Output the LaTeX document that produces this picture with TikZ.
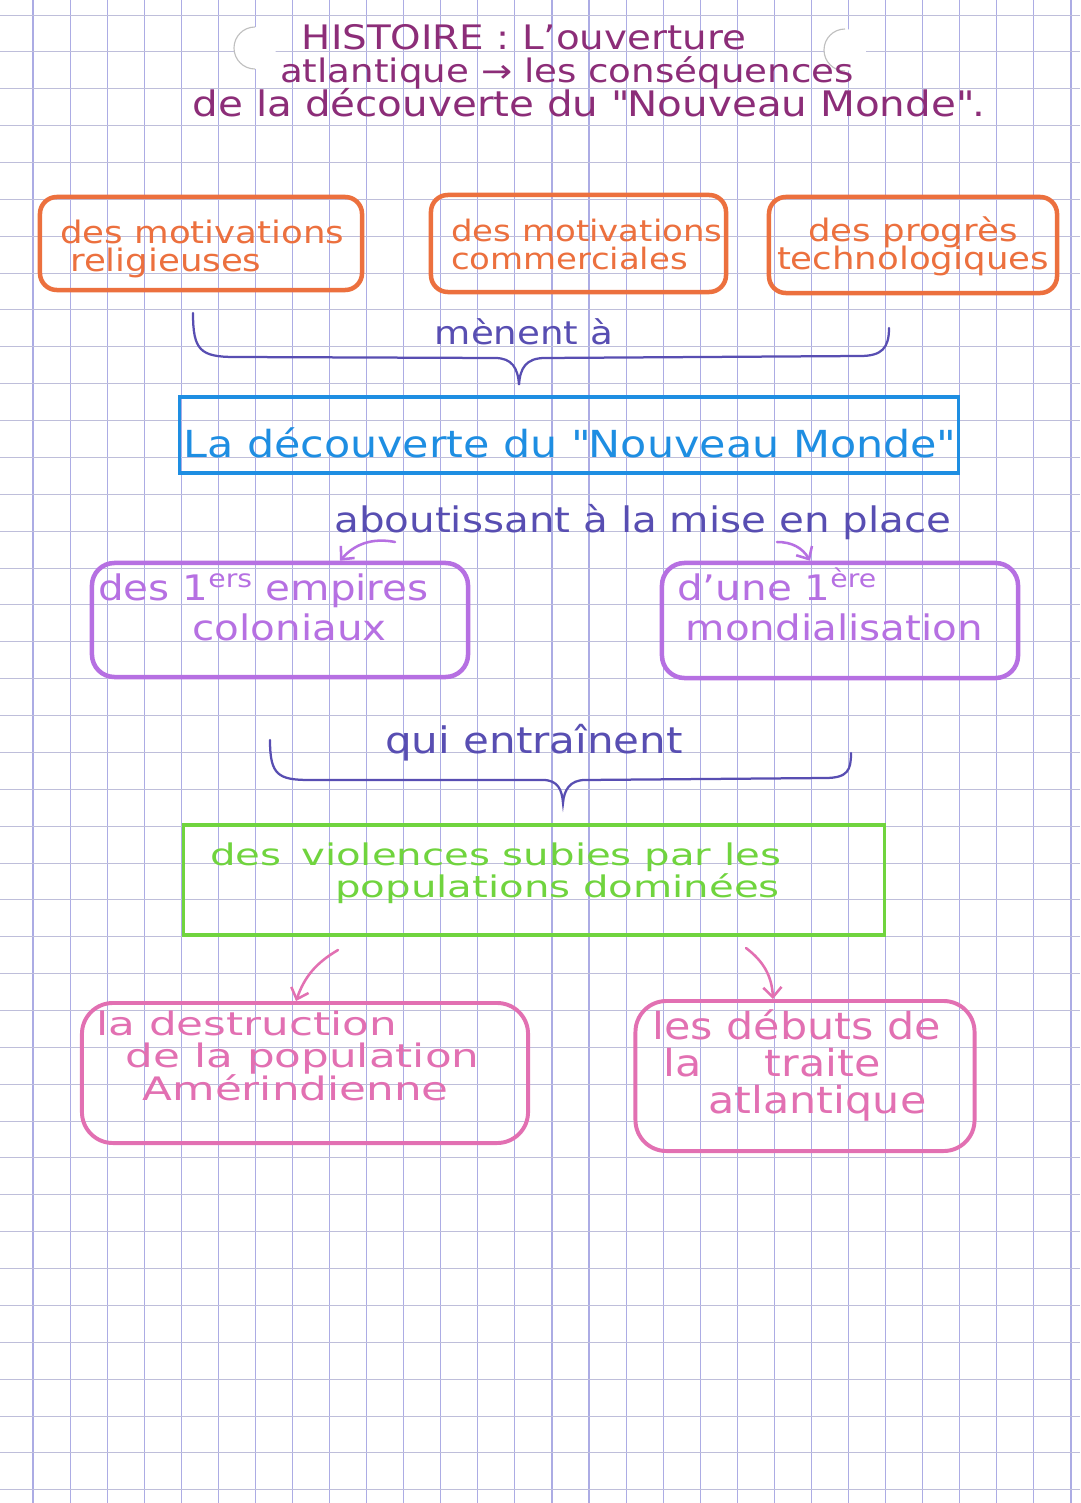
\documentclass[tikz,border=0pt]{standalone}
\usepackage{fontspec}
\setmainfont[FakeStretch=1.15]{DejaVu Sans}
\newfontfamily\widehand[FakeStretch=1.35]{DejaVu Sans}
\usetikzlibrary{shapes,arrows.meta}

\definecolor{plumink}{RGB}{140,45,120}
\definecolor{orangeink}{RGB}{236,112,62}
\definecolor{braceink}{RGB}{88,78,178}
\definecolor{blueink}{RGB}{30,142,226}
\definecolor{violetink}{RGB}{182,112,226}
\definecolor{greenink}{RGB}{112,212,62}
\definecolor{pinkink}{RGB}{226,112,178}
\definecolor{gridv}{RGB}{172,172,228}
\definecolor{gridh}{RGB}{190,190,218}

\tikzset{
  hand/.style={inner sep=0pt, align=left, anchor=base west,
               execute at begin node={\lineskiplimit=-100pt\lineskip=0pt}},
  orangebox/.style={rectangle, rounded corners=12pt, draw=orangeink, line width=3.2pt},
  violetbox/.style={rectangle, rounded corners=16pt, draw=violetink, line width=3.2pt},
  pinkbox/.style={rectangle, rounded corners=22pt, draw=pinkink, line width=2.8pt},
  bracestroke/.style={draw=braceink, line width=1.6pt, line cap=round},
  penarrow/.style={line width=1.8pt, line cap=round, -{Straight Barb[length=7pt,width=13pt]}},
}

\begin{document}
\begin{tikzpicture}[x=0.025cm, y=-0.025cm]
  \useasboundingbox (0,0) rectangle (1080,1503);
  \fill[white] (0,0) rectangle (1080,1503);

  % squared paper
  \foreach \i in {0,...,28}
    \draw[gridv, line width=0.8pt] ({33+37.07*\i},0) -- ++(0,1503);
  \foreach \j in {0,...,40}
    \draw[gridh, line width=0.7pt] (0,{15+36.87*\j}) -- ++(1080,0);

  % punch holes
  \foreach \hx/\hy in {255/48, 845/50} {
    \fill[white] (\hx,\hy) circle (21);
    \draw[black!25, line width=0.8pt] (\hx,\hy) ++(0,-21) arc[start angle=-90, end angle=-270, radius=21];
  }

  % title
  \node[hand, anchor=base, text=plumink, font=\fontsize{24}{28}\selectfont] (title1) at (524,50) {HISTOIRE : L'ouverture};
  \node[hand, anchor=base, text=plumink, font=\fontsize{23}{28}\selectfont] (title2) at (567,83) {atlantique → les conséquences};
  \node[hand, anchor=base, text=plumink, font=\fontsize{25}{28}\selectfont] (title3) at (589,117) {de la découverte du \textquotedbl Nouveau Monde\textquotedbl.};

  % causes
  \node[orangebox,
        minimum width = 8.05cm,
        minimum height = 2.325cm] (relig) at (201,243.5) {};
  \node[hand, text=orangeink, font=\fontsize{22}{20.6}\selectfont] (religtxt) at (60,272) {des motivations\\\hspace*{7pt}religieuses};

  \node[orangebox,
        minimum width = 7.375cm,
        minimum height = 2.425cm] (comm) at (578.5,243.5) {};
  \node[hand, text=orangeink, font=\fontsize{21}{20.6}\selectfont] (commtxt) at (451,270) {des motivations\\commerciales};

  \node[orangebox,
        minimum width = 7.2cm,
        minimum height = 2.4cm] (techno) at (913,245) {};
  \node[hand, anchor=base, align=center, text=orangeink, font=\fontsize{22}{20.6}\selectfont] (technotxt) at (913,270) {des progrès\\technologiques};

  % brace 1
  \draw[bracestroke] (193,313) .. controls (193,350) and (200,357) .. (235,357) -- (495,358)
    .. controls (512,358) and (518,368) .. (519,385)
    .. controls (520,368) and (526,358) .. (545,358) -- (860,356)
    .. controls (882,356) and (889,348) .. (889,328);
  \node[hand, anchor=base, text=braceink, font=\fontsize{23}{28}\selectfont] (menent) at (524,345) {mènent à};

  % discovery
  \node[rectangle,
        draw = blueink,
        line width = 2.2pt,
        minimum width = 19.45cm,
        minimum height = 1.9cm] (monde) at (569,435) {};
  \node[hand, text=blueink, font=\fontsize{26.5}{30}\selectfont] (mondetxt) at (183,457) {La découverte du \textquotedbl Nouveau Monde\textquotedbl};

  \node[hand, text=braceink, font=\fontsize{25}{28}\selectfont] (abt) at (334,532) {aboutissant à la mise en place};

  % empires / mondialisation
  \node[violetbox,
        minimum width = 9.4cm,
        minimum height = 2.85cm] (empires) at (280,620) {};
  \node[hand, text=violetink, font=\fontsize{25}{28.4}\selectfont] (empirestxt) at (98,640) {des 1\textsuperscript{ers} empires\\\hspace*{67pt}coloniaux};

  \node[violetbox,
        minimum width = 8.9cm,
        minimum height = 2.875cm] (mondial) at (840,620.5) {};
  \node[hand, text=violetink, font=\fontsize{25}{28.4}\selectfont] (mondialtxt) at (677,640) {d'une 1\textsuperscript{ère}\\\hspace*{6pt}mondialisation};

  \coordinate (abtL) at (395,542);
  \coordinate (abtR) at (777,542);
  \draw[penarrow, violetink] (abtL) to[bend right=30] ([xshift=1.5cm]empires.north);
  \draw[penarrow, violetink] (abtR) to[bend left=30] ([xshift=-0.75cm]mondial.north);

  % brace 2
  \draw[bracestroke] (270,740) .. controls (270,775) and (278,780) .. (310,780) -- (543,780)
    .. controls (558,780) and (562,790) .. (563,803)
    .. controls (564,790) and (570,780) .. (585,780) -- (825,778)
    .. controls (848,778) and (851,770) .. (851,753);
  \node[hand, anchor=base, text=braceink, font=\fontsize{26}{28}\selectfont] (entrainent) at (534,753) {qui entraînent};

  % violences
  \node[rectangle,
        draw = greenink,
        line width = 2.2pt,
        minimum width = 17.5cm,
        minimum height = 2.75cm] (violences) at (534,880) {};
  \node[hand, text=greenink, font=\widehand\fontsize{21.2}{22.5}\selectfont] (violencestxt) at (210,897) {des\hspace{14pt}violences subies par les\\\hspace*{89pt}populations dominées};

  % consequences
  \node[pinkbox,
        minimum width = 11.15cm,
        minimum height = 3.5cm] (destr) at (305,1073) {};
  \node[hand, text=pinkink, font=\widehand\fontsize{23}{23}\selectfont] (destrtxt) at (96,1100) {la destruction\\\hspace*{21pt}de la population\\\hspace*{33pt}Amérindienne};

  \node[pinkbox,
        minimum width = 8.475cm,
        minimum height = 3.75cm] (traite) at (805,1076) {};
  \node[hand, text=pinkink, font=\fontsize{26.5}{26}\selectfont] (traitetxt) at (652,1113) {les débuts de\\\hspace*{8pt}la\hspace{45pt}traite\\\hspace*{40pt}atlantique};

  \coordinate (violL) at (338,950);
  \coordinate (violR) at (746,948);
  \draw[penarrow, pinkink] (violL) to[bend right=20] ([xshift=-0.225cm]destr.north);
  \draw[penarrow, pinkink] (violR) to[bend left=25] ([xshift=-0.8cm]traite.north);

\end{tikzpicture}
\end{document}
